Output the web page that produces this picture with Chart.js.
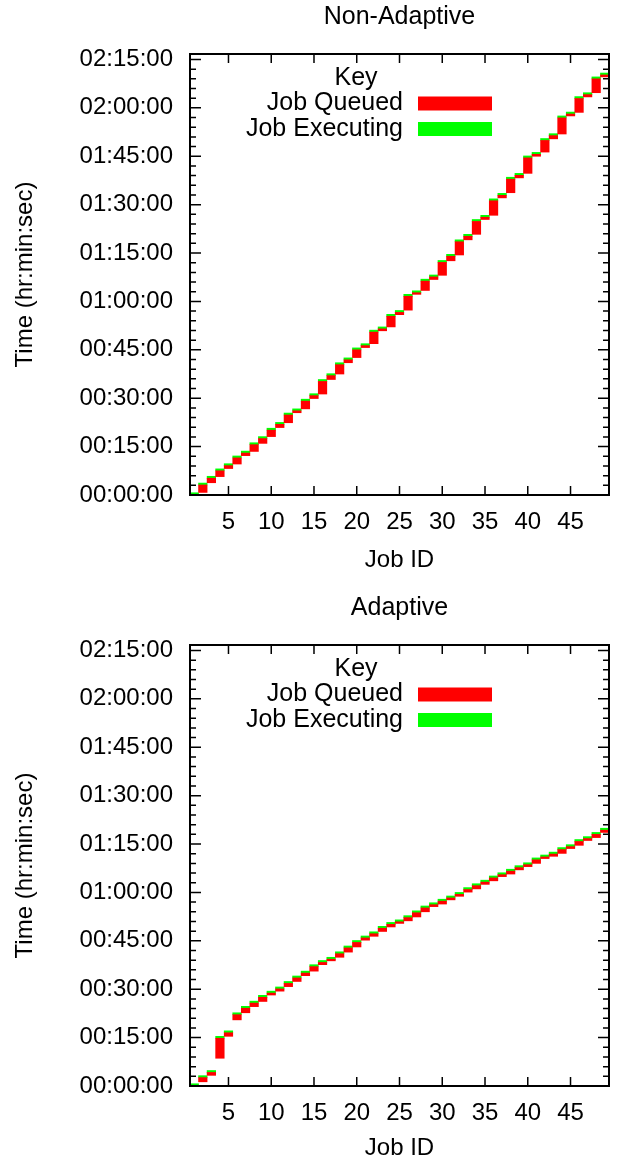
<!DOCTYPE html>
<html>
<head>
<meta charset="utf-8">
<script src="https://cdn.jsdelivr.net/npm/chart.js@4.4.0/dist/chart.umd.min.js"></script>
<style>
  html, body { margin: 0; padding: 0; background: #fff; }
  .panel { position: absolute; left: 0; width: 619px; }
  #top { top: 0; height: 575px; }
  #bottom { top: 591px; height: 572px; }
</style>
</head>
<body>
<div class="panel" id="top"><canvas id="nonAdaptive"></canvas></div>
<div class="panel" id="bottom"><canvas id="adaptive"></canvas></div>
<script>
// job ids and axis ticks
const jobIds = [1, 2, 3, 4, 5, 6, 7, 8, 9, 10, 11, 12, 13, 14, 15, 16, 17, 18, 19, 20,
  21, 22, 23, 24, 25, 26, 27, 28, 29, 30, 31, 32, 33, 34, 35, 36, 37, 38, 39, 40,
  41, 42, 43, 44, 45, 46, 47, 48, 49];
const xTicks = [5, 10, 15, 20, 25, 30, 35, 40, 45];
const yTicks = [0, 15, 30, 45, 60, 75, 90, 105, 120, 135]; // minutes

// Non-Adaptive (minutes): submitted, started, finished
const naSubmit = [0, 0.8, 3.8, 5.7, 8.2, 9.6, 12.2, 13.5, 16.0, 18.1, 20.9, 22.4, 25.5, 26.7, 29.9, 31.3,
  35.8, 37.5, 41.0, 42.6, 45.7, 46.9, 50.9, 52.1, 55.9, 57.3, 62.2, 63.4, 66.8, 68.1, 72.6, 74.4,
  79.1, 80.8, 85.4, 86.7, 92.1, 93.7, 98.3, 99.7, 105.0, 106.3, 110.4, 111.9, 117.5, 118.6, 123.4, 124.7, 129.6];
const naStart = [0, 3.1, 5.2, 7.5, 9.1, 11.5, 13.0, 15.6, 17.5, 20.1, 21.9, 24.8, 26.1, 29.1, 30.8, 35.2,
  37.0, 40.4, 41.9, 45.0, 46.3, 50.5, 51.5, 55.4, 56.6, 61.6, 62.7, 66.3, 67.6, 72.1, 74.0, 78.5,
  80.2, 84.8, 86.1, 91.2, 92.9, 97.9, 99.1, 104.5, 105.6, 109.9, 111.4, 116.9, 118.1, 122.9, 124.1, 129.0, 130.2];
const naEnd = [0.7, 3.7, 5.8, 8.1, 9.7, 12.1, 13.6, 16.2, 18.1, 20.7, 22.5, 25.4, 26.7, 29.7, 31.4, 35.8,
  37.6, 41.0, 42.5, 45.6, 46.9, 51.1, 52.1, 56.0, 57.2, 62.2, 63.3, 66.9, 68.2, 72.7, 74.6, 79.1,
  80.8, 85.4, 86.7, 91.8, 93.5, 98.5, 99.7, 105.1, 106.2, 110.5, 112.0, 117.5, 118.7, 123.5, 124.7, 129.6, 130.8];

// Adaptive (minutes)
const adSubmit = [0, 1.3, 3.3, 8.6, 15.4, 20.5, 22.7, 24.6, 26.2, 28.2, 29.4, 30.8, 32.4, 34.2, 35.6, 37.6,
  38.8, 39.9, 41.5, 43.1, 45.2, 46.4, 47.9, 49.3, 50.4, 51.2, 52.4, 54.0, 55.6, 56.4, 57.7, 58.8,
  60.1, 61.1, 62.5, 63.6, 64.9, 65.7, 67.0, 68.0, 69.0, 70.5, 71.2, 72.1, 73.6, 74.6, 76.1, 77.0, 78.6];
const adStart = [0.1, 2.6, 4.2, 14.8, 16.5, 22.1, 24.1, 25.7, 27.5, 28.8, 30.1, 31.8, 33.5, 35.0, 37.0, 38.3,
  39.3, 41.0, 42.8, 44.5, 45.9, 47.2, 48.9, 50.1, 50.9, 52.2, 53.7, 55.2, 56.2, 57.3, 58.3, 59.4,
  60.9, 62.1, 63.2, 64.5, 65.5, 66.6, 67.7, 68.6, 70.1, 71.0, 71.9, 73.3, 74.2, 75.8, 76.7, 78.0, 79.3];
const adEnd = [0.7, 3.2, 4.8, 15.4, 17.1, 22.7, 24.7, 26.3, 28.1, 29.4, 30.7, 32.4, 34.1, 35.6, 37.6, 38.9,
  39.9, 41.6, 43.4, 45.1, 46.5, 47.8, 49.5, 50.7, 51.5, 52.8, 54.3, 55.8, 56.8, 57.9, 58.9, 60.0,
  61.5, 62.7, 63.8, 65.1, 66.1, 67.2, 68.3, 69.2, 70.7, 71.6, 72.5, 73.9, 74.8, 76.4, 77.3, 78.6, 79.9];

const FONT = '"Liberation Sans", Arial, Helvetica, sans-serif';
Chart.defaults.font.family = FONT;
Chart.defaults.color = '#000';

function hms(min) {
  const s = Math.round(min * 60);
  const p = n => String(n).padStart(2, '0');
  return p(Math.floor(s / 3600)) + ':' + p(Math.floor((s % 3600) / 60)) + ':' + p(s % 60);
}

// gnuplot style frame with inward ticks on all four sides
const framePlugin = {
  id: 'frame',
  afterDatasetsDraw(chart) {
    const { ctx, chartArea: a, scales: { x, y } } = chart;
    ctx.save();
    ctx.strokeStyle = '#000';
    ctx.lineWidth = 1.5;
    ctx.beginPath();
    xTicks.forEach(v => {
      const px = x.getPixelForValue(v);
      ctx.moveTo(px, a.bottom); ctx.lineTo(px, a.bottom - 9);
      ctx.moveTo(px, a.top); ctx.lineTo(px, a.top + 9);
    });
    for (let m = 0; m <= y.max; m += 3) {
      const len = m % 15 === 0 ? 11 : 6;
      const py = y.getPixelForValue(m);
      ctx.moveTo(a.left, py); ctx.lineTo(a.left + len, py);
      ctx.moveTo(a.right, py); ctx.lineTo(a.right - len, py);
    }
    ctx.stroke();
    ctx.lineWidth = 2;
    ctx.strokeRect(a.left, a.top, a.width, a.height);
    ctx.restore();
  }
};

// key in the upper part of the plot
const keyPlugin = {
  id: 'key',
  afterDraw(chart) {
    const ctx = chart.ctx;
    ctx.save();
    ctx.font = '25px ' + FONT;
    ctx.fillStyle = '#000';
    ctx.textBaseline = 'middle';
    ctx.textAlign = 'center';
    ctx.fillText('Key', 356, 78);
    chart.data.datasets.forEach((ds, i) => {
      const cy = 103.5 + i * 25.5;
      ctx.fillStyle = '#000';
      ctx.textAlign = 'right';
      ctx.fillText(ds.label, 403, cy);
      ctx.fillStyle = ds.backgroundColor;
      ctx.fillRect(418, cy - 7, 74, 14);
    });
    ctx.restore();
  }
};

function makeChart(id, title, submit, start, end, xAxisHeight) {
  const queued = jobIds.map((j, i) => ({ x: j, y: [submit[i], start[i]] }));
  const running = jobIds.map((j, i) => ({ x: j, y: [start[i], end[i]] }));
  return new Chart(document.getElementById(id), {
    type: 'bar',
    data: {
      datasets: [
        { label: 'Job Queued', data: queued, backgroundColor: '#ff0000', grouped: false,
          barPercentage: 1, categoryPercentage: 1, borderSkipped: false },
        { label: 'Job Executing', data: running, backgroundColor: '#00ff00', grouped: false,
          barPercentage: 1, categoryPercentage: 1, borderSkipped: false }
      ]
    },
    options: {
      responsive: true,
      maintainAspectRatio: false,
      animation: false,
      layout: { padding: { left: 0, right: 10, top: 0, bottom: 0 } },
      plugins: {
        legend: { display: false },
        tooltip: { enabled: false },
        title: {
          display: true, text: title, color: '#000', fullSize: false,
          font: { size: 25, weight: 'normal' },
          padding: { top: 2, bottom: 22 }
        }
      },
      scales: {
        x: {
          type: 'linear', min: 0.5, max: 49.5, offset: false,
          afterBuildTicks: s => { s.ticks = xTicks.map(v => ({ value: v })); },
          afterFit: s => { s.height = xAxisHeight; },
          grid: { display: false, drawTicks: false },
          border: { display: false },
          ticks: { padding: 13, font: { size: 24 }, color: '#000', maxRotation: 0 },
          title: { display: true, text: 'Job ID', font: { size: 24 }, color: '#000', padding: { top: 0, bottom: 0 } }
        },
        y: {
          min: 0, max: 136.7,
          afterBuildTicks: s => { s.ticks = yTicks.map(v => ({ value: v })); },
          afterFit: s => { s.width = 190; },
          grid: { display: false, drawTicks: false },
          border: { display: false },
          ticks: { padding: 17, font: { size: 24 }, color: '#000', callback: v => hms(v) },
          title: { display: true, text: 'Time (hr:min:sec)', font: { size: 24 }, color: '#000', padding: { top: 11, bottom: 0 } }
        }
      }
    },
    plugins: [framePlugin, keyPlugin]
  });
}

makeChart('nonAdaptive', 'Non-Adaptive', naSubmit, naStart, naEnd, 80);
makeChart('adaptive', 'Adaptive', adSubmit, adStart, adEnd, 77);
</script>
</body>
</html>
